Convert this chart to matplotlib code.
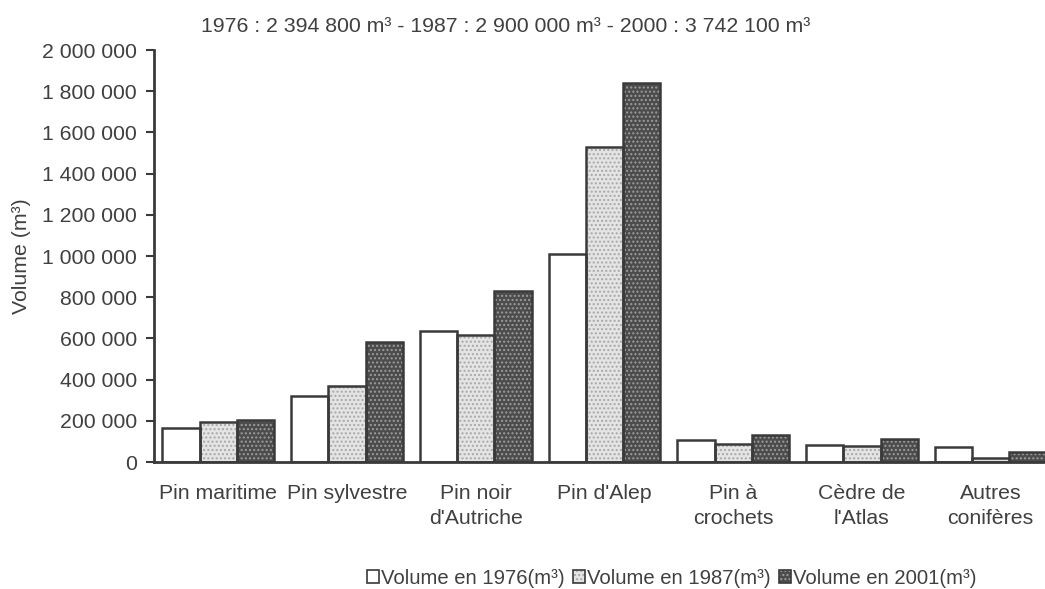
"""
Volume par essence de conifères, 1976 / 1987 / 2001
Grouped bar chart, grey hatched fills like the original Excel figure
"""

import matplotlib
matplotlib.use('Agg')
import matplotlib.pyplot as plt
from matplotlib.patches import Patch
from matplotlib.ticker import FuncFormatter, MultipleLocator

# data
categories = ["Pin maritime", "Pin sylvestre", "Pin noir\nd'Autriche", "Pin d'Alep",
              "Pin à\ncrochets", "Cèdre de\nl'Atlas", "Autres\nconifères"]
vol_1976 = [166000, 320000, 634000, 1011000, 108000, 84000, 71000]
vol_1987 = [194000, 370000, 616000, 1527000, 89000, 79000, 21000]
vol_2001 = [204000, 582000, 830000, 1840000, 129000, 113000, 48000]
series_labels = ["Volume en 1976(m³)", "Volume en 1987(m³)", "Volume en 2001(m³)"]
title_text = "1976 : 2 394 800 m³ - 1987 : 2 900 000 m³ - 2000 : 3 742 100 m³"

plt.rcParams['font.family'] = ['Liberation Sans', 'DejaVu Sans']
plt.rcParams['hatch.linewidth'] = 1.0

dark = '#3a3a3a'
text_col = '#404040'
fs = 15.3
# (face colour, hatch, hatch colour) for each series
styles = [
    ('white', None, 'white'),
    ('#e4e4e4', '....', '#a8a8a8'),
    ('#4c4c4c', '....', '#9c9c9c'),
]

fig = plt.figure(figsize=(10.45, 5.89), dpi=100)
ax = fig.add_axes([154 / 1045, 1 - 462 / 589, 901 / 1045, 412 / 589])

x = list(range(len(categories)))
w = 0.29
handles = []
for i, (vals, (fc, hatch, hc)) in enumerate(zip([vol_1976, vol_1987, vol_2001], styles)):
    pos = [xi + (i - 1) * w for xi in x]
    # fill with hatch first, then the dark outline on top
    ax.bar(pos, vals, width=w, color=fc, edgecolor=hc, hatch=hatch, linewidth=0, zorder=2)
    ax.bar(pos, vals, width=w, fill=False, edgecolor=dark, linewidth=1.8, zorder=3)
    handles.append((Patch(facecolor=fc, edgecolor=hc, hatch=hatch, linewidth=0),
                    Patch(fill=False, edgecolor=dark, linewidth=1.2)))

ax.set_xlim(-0.5, len(categories) - 0.5)
ax.set_ylim(0, 2000000)
ax.yaxis.set_major_locator(MultipleLocator(200000))
ax.yaxis.set_major_formatter(FuncFormatter(lambda v, p: f"{v:,.0f}".replace(',', ' ')))

ax.set_xticks(x)
ax.set_xticklabels(categories, fontsize=fs, color=text_col, linespacing=1.4)
ax.tick_params(axis='x', length=0, pad=16)
ax.tick_params(axis='y', length=6, width=1.5, color=dark, pad=6.5, labelsize=fs, labelcolor=text_col)

for side in ['top', 'right']:
    ax.spines[side].set_visible(False)
for side in ['left', 'bottom']:
    ax.spines[side].set_color(dark)
    ax.spines[side].set_linewidth(2)

fig.text(22 / 1045, 1 - 256 / 589, "Volume (m³)", rotation=90, ha='center', va='center',
         fontsize=fs, color=text_col)
fig.text(506 / 1045, 1 - 27 / 589, title_text, ha='center', va='center',
         fontsize=fs, color=text_col)

fig.legend(handles, series_labels, loc='center', bbox_to_anchor=(672 / 1045, 1 - 578 / 589),
           ncol=3, frameon=False, fontsize=14.6, handlelength=0.6, handleheight=0.6,
           handletextpad=0.1, columnspacing=0.4, labelcolor=text_col)

fig.savefig('out.png', dpi=100)
